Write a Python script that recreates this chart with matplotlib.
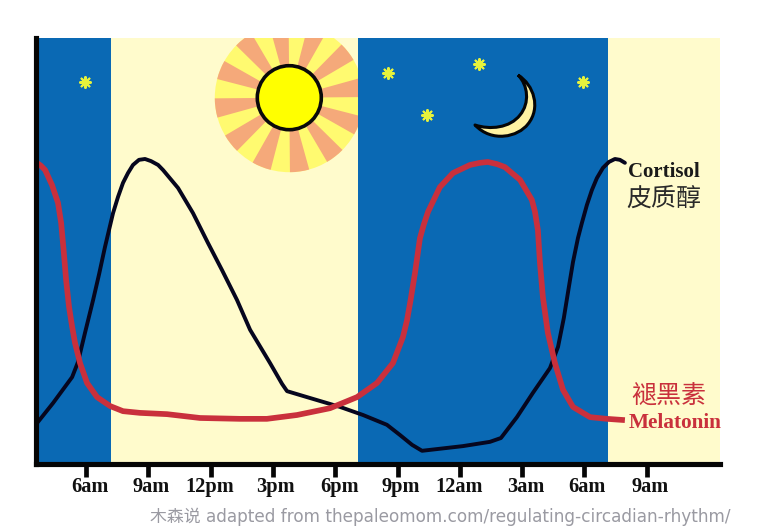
import matplotlib
matplotlib.use("Agg")
import matplotlib.pyplot as plt
from matplotlib.patches import Wedge, Circle, PathPatch, Rectangle
from matplotlib.path import Path
from matplotlib.transforms import ScaledTranslation

tick_hours = [6, 9, 12, 15, 18, 21, 24, 27, 30, 33]
tick_labels = ["6am", "9am", "12pm", "3pm", "6pm", "9pm", "12am", "3am", "6am", "9am"]
tick_label_shift = [3.5, 3, -1, 3, 4, 3, -1, 4, 3, 3]

night_bands = [(3.59, 7.2), (19.1, 31.13)]
day_bands = [(7.2, 19.1), (31.13, 36.53)]

cortisol_hours = [3.64, 4.41, 5.33, 5.61, 5.95, 6.34, 6.63, 6.91, 7.30, 7.54, 7.78, 8.02, 8.26, 8.55, 8.84,
                  9.13, 9.47, 9.71, 10.43, 11.15, 11.87, 12.55, 13.27, 13.90, 14.86, 15.44, 15.68, 16.64,
                  18.23, 19.34, 20.49, 21.12, 21.70, 22.18, 24.15, 25.45, 25.98, 26.75, 27.52, 28.34,
                  28.73, 29.01, 29.25, 29.45, 29.69, 29.88, 30.12, 30.36, 30.60, 30.89, 31.18, 31.47, 31.71, 31.95]
cortisol_level = [9.6, 14.3, 20.4, 23.9, 30.8, 38.5, 44.6, 50.9, 58.9, 62.7, 66.0, 68.3, 70.2, 71.4, 71.6,
                  71.1, 70.2, 69.0, 64.8, 58.9, 51.9, 45.5, 38.5, 31.5, 23.7, 18.8, 17.1, 15.7,
                  13.4, 11.5, 9.2, 6.8, 4.5, 3.1, 4.2, 5.2, 6.1, 11.0, 16.7, 22.5,
                  27.5, 34.3, 41.5, 47.4, 53.05, 56.6, 60.8, 64.3, 67.1, 69.5, 70.9, 71.6, 71.4, 70.7]

melatonin_hours = [3.64, 3.83, 4.03, 4.36, 4.65, 4.80, 4.92, 5.04, 5.18, 5.33, 5.47, 5.71, 6.05, 6.53, 7.16,
                   7.78, 8.60, 9.90, 11.49, 13.41, 14.71, 16.16, 17.75, 19.05, 20.01, 20.78, 21.26, 21.46,
                   21.63, 21.84, 22.08, 22.27, 22.47, 23.04, 23.67, 24.49, 24.97, 25.35, 25.79, 26.17, 26.90,
                   27.47, 27.62, 27.76, 27.86, 28.00, 28.24, 28.58, 28.97, 29.45, 30.27, 31.08, 31.95]
melatonin_level = [70.7, 70.0, 69.0, 65.5, 61.3, 56.6, 50.2, 43.2, 36.9, 32.2, 28.4, 23.7, 19.0, 15.7, 13.6,
                   12.4, 12.0, 11.7, 10.8, 10.6, 10.6, 11.5, 13.1, 15.7, 19.0, 23.7, 29.8, 33.8,
                   38.5, 44.8, 53.0, 56.3, 59.2, 65.0, 68.3, 70.2, 70.7, 70.9, 70.4, 69.7, 66.7,
                   62.0, 59.2, 54.9, 47.2, 39.2, 30.8, 23.7, 17.4, 13.4, 11.0, 10.6, 10.3]

BLUE = "#0A69B4"
CREAM = "#FFFBCC"
RED = "#C9303C"
W, H = 759, 532
CJK = ["Noto Sans CJK SC", "DejaVu Sans"]
LATIN_FIRST = ["DejaVu Sans", "Noto Sans CJK SC"]

fig = plt.figure(figsize=(W / 100, H / 100), dpi=100, facecolor="white")
ax = fig.add_axes([36 / W, (H - 464) / H, 684 / W, 426 / H])
ax.set_xlim(3.59, 36.53)
ax.set_ylim(0, 100)
for a, b in night_bands:
    ax.axvspan(a, b, color=BLUE, lw=0, zorder=1)
for a, b in day_bands:
    ax.axvspan(a, b, color=CREAM, lw=0, zorder=1)

ax.plot(cortisol_hours, cortisol_level, color="#06061E", lw=2.8, zorder=3,
        solid_joinstyle="round", solid_capstyle="round")
ax.plot(melatonin_hours, melatonin_level, color=RED, lw=4.1, zorder=4,
        solid_joinstyle="round", solid_capstyle="butt")

for s in ("top", "right"):
    ax.spines[s].set_visible(False)
for s in ("left", "bottom"):
    ax.spines[s].set_linewidth(3.7)
    ax.spines[s].set_color("#050505")
    ax.spines[s].set_zorder(6)
ax.set_yticks([])
ax.set_xticks(tick_hours)
ax.set_xticklabels(tick_labels, family="Liberation Serif", fontweight="bold", fontsize=14.7, color="#111111")
ax.tick_params(axis="x", length=9, width=3.4, color="#050505", pad=0.5)
for lbl, dx in zip(ax.get_xticklabels(), tick_label_shift):
    lbl.set_transform(lbl.get_transform() + ScaledTranslation(dx / 100, 0, fig.dpi_scale_trans))

# Decoration layer in image pixels
deco = fig.add_axes([0, 0, 1, 1], facecolor="none")
deco.set_xlim(0, W)
deco.set_ylim(H, 0)
deco.axis("off")

sun_x, sun_y = 289.3, 97.7
clip = Rectangle((205, 38), 153, 150, transform=deco.transData)
disc = deco.add_patch(Wedge((sun_x, sun_y), 74.5, 0, 360, fc="#FFFA70", ec="none"))
disc.set_clip_path(clip)
for k in range(12):
    # the y axis is inverted, so the angles run clockwise on screen
    c = -8 + 30 * k
    ray = deco.add_patch(Wedge((sun_x, sun_y), 74.5, c - 7.5, c + 7.5, fc="#F5A97A", ec="none"))
    ray.set_clip_path(clip)
deco.add_patch(Circle((sun_x, sun_y), 32, fc="#FFFF00", ec="#0A0A0A", lw=2.6))

star_x = [85, 388, 479, 427, 583]
star_y = [82, 73, 64, 115, 82]
deco.scatter(star_x, star_y, marker=(8, 2, 0), s=62, color="#E6F23C", linewidths=1.5, zorder=5)

moon = Path(
    [(518, 75), (534, 85), (541, 108), (528, 124), (518, 137), (492, 143), (475, 125),
     (490, 130), (510, 128), (520, 115), (530, 103), (528, 85), (518, 75)],
    [Path.MOVETO] + [Path.CURVE4] * 12)
deco.add_patch(PathPatch(moon, fc="#FFF3A2", ec="#050505", lw=2.2, joinstyle="round", zorder=5))

deco.text(628, 172, "Cortisol", family="Liberation Serif", fontweight="bold", fontsize=15,
          color="#1A1A1A", va="center", ha="left")
deco.text(626, 199, "皮质醇", family=CJK, fontsize=18, color="#2A2A2A", va="center", ha="left")
deco.text(631, 397, "褪黑素", family=CJK, fontsize=18, color=RED, va="center", ha="left")
deco.text(629, 423, "Melatonin", family="Liberation Serif", fontweight="bold", fontsize=15.3,
          color=RED, va="center", ha="left")
deco.text(150, 517, "木森说 adapted from thepaleomom.com/regulating-circadian-rhythm/", family=LATIN_FIRST,
          fontsize=12.2, color="#9A9AA2", va="center", ha="left")

fig.savefig("out.png", dpi=100, facecolor="white")
